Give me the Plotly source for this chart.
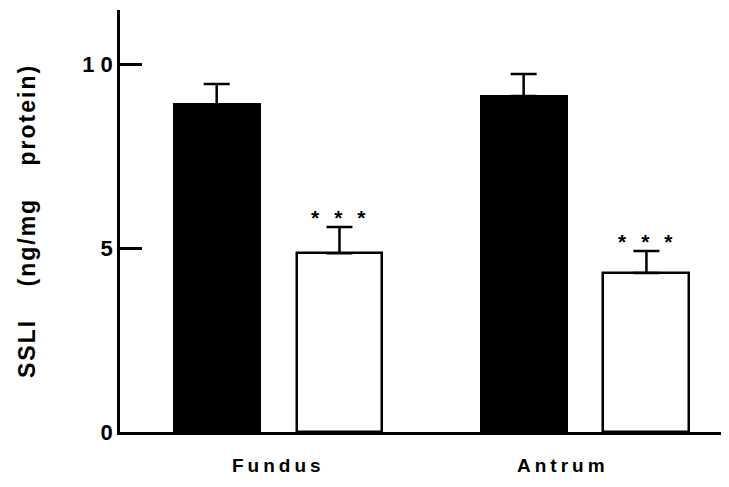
import plotly.graph_objects as go

# Data
regions = ["Fundus", "Antrum"]
control_vals = [8.91, 9.13]
control_err = [0.55, 0.60]
treated_vals = [4.86, 4.32]
treated_err = [0.71, 0.60]
significance = ["***", "***"]
y_tick_vals = [0, 5, 10]
y_tick_text = ["0", "5", "1 0"]
y_title = "SSLI (ng/mg protein)"

group_pos = [1, 2]
offset = 0.2
bar_w = 0.28
x_ctrl = [g - offset for g in group_pos]
x_trt = [g + offset for g in group_pos]

fig = go.Figure()
fig.add_trace(go.Bar(
    x=x_ctrl, y=control_vals, width=bar_w,
    marker=dict(color="black", line=dict(color="black", width=2)),
    error_y=dict(type="data", array=control_err, arrayminus=[0, 0], symmetric=False,
                 color="black", thickness=2.5, width=13),
    showlegend=False,
))
fig.add_trace(go.Bar(
    x=x_trt, y=treated_vals, width=bar_w,
    marker=dict(color="white", line=dict(color="black", width=2.5)),
    error_y=dict(type="data", array=treated_err, arrayminus=[0, 0], symmetric=False,
                 color="black", thickness=2.5, width=13),
    showlegend=False,
))

font = "Liberation Sans, Arial, sans-serif"
annotations = []
for xv, v, e, s in zip(x_trt, treated_vals, treated_err, significance):
    annotations.append(dict(
        x=xv, y=v + e, xref="x", yref="y", xshift=7, yshift=-4,
        text='<span style="letter-spacing:15px">' + s + '</span>',
        showarrow=False, yanchor="bottom",
        font=dict(family=font, size=21, color="black", weight="bold"),
    ))
label_shift = [0, -22]
for g, name, sh in zip(group_pos, regions, label_shift):
    annotations.append(dict(
        x=g, y=0, xref="x", yref="paper", yshift=-33, xshift=sh,
        text='<span style="letter-spacing:4px">' + name + '</span>',
        showarrow=False, yanchor="middle",
        font=dict(family=font, size=19, color="black", weight="bold"),
    ))
annotations.append(dict(
    x=0, y=0.5, xref="paper", yref="paper", xshift=-108,
    text='<span style="letter-spacing:2px;word-spacing:24px">' + y_title + '</span>',
    textangle=-90, showarrow=False,
    font=dict(family=font, size=23, color="black", weight="bold"),
))

fig.update_layout(
    width=721, height=479,
    margin=dict(l=112, r=0, t=2, b=55),
    plot_bgcolor="white", paper_bgcolor="white",
    bargap=0, barmode="overlay",
    annotations=annotations,
    xaxis=dict(range=[0.485, 2.469], showline=True, linecolor="black", linewidth=2.5,
               showticklabels=False, ticks="", showgrid=False, zeroline=False),
    yaxis=dict(range=[0, 11.47], showline=True, linecolor="black", linewidth=2.5,
               tickvals=y_tick_vals, ticktext=y_tick_text, ticks="inside", ticklen=22,
               tickwidth=2.5, tickcolor="black", showgrid=False, zeroline=False,
               tickfont=dict(family=font, size=22, color="black", weight="bold")),
)
fig.write_html("out.html")
